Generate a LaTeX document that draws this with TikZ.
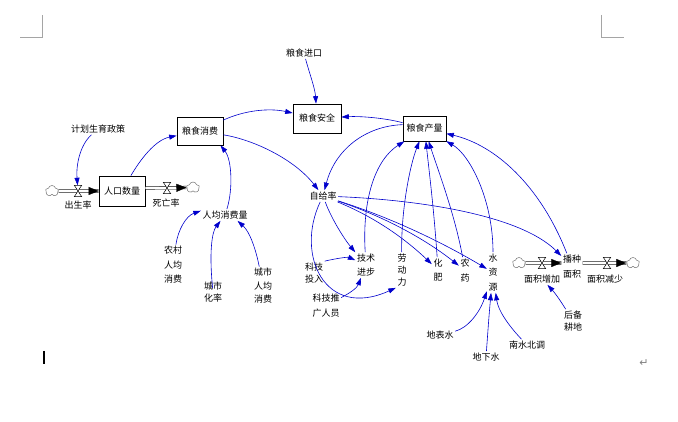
\documentclass[tikz,border=0pt]{standalone}
\usepackage{fontspec}
\setmainfont{Noto Sans CJK SC}
\newfontfamily\symfont{DejaVu Sans}
\usetikzlibrary{arrows.meta,shapes.symbols}
\definecolor{vblue}{RGB}{0,0,204}
\definecolor{markgray}{RGB}{165,165,165}
\definecolor{cloudgray}{RGB}{110,110,110}
\newcommand{\fs}[1]{\fontsize{9}{#1}\selectfont}
\newcommand{\drawvalve}[1]{\draw[line width=0.5pt, fill=white] (#1.north west) -- (#1.north east) -- (#1.south west) -- (#1.south east) -- cycle;}
\begin{document}
\begin{tikzpicture}[x=1pt,y=-1pt,
  every node/.style={inner sep=1.5pt},
  txt/.style={align=center, font=\fs{13.5}},
  stock/.style={draw, line width=0.7pt, inner sep=0pt, font=\fs{11}},
  arr/.style={draw=vblue, line width=0.6pt, -{Triangle[length=7.5pt,width=5pt]}},
  pipe/.style={draw=black, double=white, double distance=2.2pt, line width=0.5pt},
  pipetip/.style={draw=white, line width=0.3pt, -{Triangle[length=10pt,width=8pt,color=black,fill=black]}},
  valvebox/.style={minimum width=7pt, minimum height=11pt, inner sep=0pt},
  cloudy/.style={cloud, cloud puffs=5, cloud puff arc=150, draw=cloudgray, line width=0.5pt, minimum width=13pt, minimum height=11pt, inner sep=0pt, aspect=1.1},
]
\path[use as bounding box] (0,0) rectangle (678,422);

% page marks
\draw[markgray, line width=0.6pt] (20,37) -- (42,37) -- (42,15);
\draw[markgray, line width=0.6pt] (601,15) -- (601,37) -- (624,37);
\draw[line width=1.2pt] (44,351) -- (44,364);
\node[text=gray, font=\symfont\fontsize{11}{11}\selectfont] (ret) at (644,363) {↵};

% stocks
\node[stock, minimum width=48pt, minimum height=29pt] (sec) at (317,118.5) {粮食安全};
\node[stock, minimum width=43pt, minimum height=25pt] (prod) at (424.5,128.5) {粮食产量};
\node[stock, minimum width=46pt, minimum height=28pt] (cons) at (200,131) {粮食消费};
\node[stock, minimum width=46pt, minimum height=30pt] (pop) at (122,191) {人口数量};

% variables
\node[txt] (imp) at (304,53) {粮食进口};
\node[txt] (plan) at (98,129) {计划生育政策};
\node[txt] (percap) at (225,215) {人均消费量};
\node[txt, font=\fs{14.5}] (rural) at (173,265) {农村\\人均\\消费};
\node[txt, font=\fs{12}] (urbrate) at (213,292) {城市\\化率};
\node[txt, font=\fs{13.5}] (city) at (263,286) {城市\\人均\\消费};
\node[txt] (self) at (323,196) {自给率};
\node[txt, font=\fs{14}] (tech) at (366,265) {技术\\进步};
\node[txt, font=\fs{12}] (kjtr) at (314,273) {科技\\投入};
\node[txt, font=\fs{15}] (kjtg) at (326,305.5) {科技推\\广人员};
\node[txt, font=\fs{12}] (labor) at (402,270) {劳\\动\\力};
\node[txt, font=\fs{14}] (fert) at (438,270) {化\\肥};
\node[txt, font=\fs{15}] (pest) at (465,270.5) {农\\药};
\node[txt, font=\fs{14.5}] (water) at (493,272.5) {水\\资\\源};
\node[txt] (surf) at (440,335) {地表水};
\node[txt] (under) at (486,357) {地下水};
\node[txt] (snbd) at (527,345) {南水北调};
\node[txt, font=\fs{15}] (area) at (572,266.5) {播种\\面积};
\node[txt, font=\fs{12}] (reserve) at (573,321) {后备\\耕地};

% flows: population
\node[cloudy] (cloudL) at (52,191) {};
\node[valvebox] (bvalve) at (78,191) {};
\node[txt] (birth) at (78,205) {出生率};
\node[valvebox] (dvalve) at (167,188) {};
\node[cloudy] (cloudR) at (193,187.5) {};
\node[txt] (death) at (166,203) {死亡率};
\draw[pipe] (cloudL) -- (pop);
\draw[pipetip] (bvalve) -- (pop);
\drawvalve{bvalve}
\draw[pipe] (pop.east |- dvalve) -- (cloudR);
\draw[pipetip] (dvalve) -- (cloudR);
\drawvalve{dvalve}

% flows: area
\node[cloudy] (cloudA) at (519,263) {};
\node[valvebox] (aivalve) at (542,263) {};
\node[txt] (ainc) at (542,279) {面积增加};
\node[valvebox] (advalve) at (607,263) {};
\node[txt] (adec) at (605,279) {面积减少};
\node[cloudy] (cloudB) at (633,263) {};
\draw[pipe] (cloudA) -- (area.west |- aivalve);
\draw[pipetip] (aivalve) -- (area.west |- aivalve);
\drawvalve{aivalve}
\draw[pipe] (area.east |- advalve) -- (cloudB);
\draw[pipetip] (advalve) -- (cloudB);
\drawvalve{advalve}

% causal links
\draw[arr] (imp) .. controls (309,72) and (315,88) .. (sec);
\draw[arr] (cons) .. controls (245,110) and (270,108) .. (sec);
\draw[arr] (prod) .. controls (385,118) and (360,116) .. (sec);
\draw[arr] (cons) .. controls (255,140) and (295,160) .. (self);
\draw[arr] (prod.170) .. controls (365,126) and (335,150) .. (self);
\draw[arr] (pop) .. controls (140,160) and (155,140) .. (cons);
\draw[arr] (plan) .. controls (80,145) and (76,165) .. (bvalve);
\draw[arr] (percap) .. controls (233,190) and (232,160) .. (cons.-35);
\draw[arr] (rural) .. controls (178,230) and (186,216) .. (percap.170);
\draw[arr, shorten <=-8pt] (urbrate) .. controls (209,252) and (212,232) .. (percap);
\draw[arr] (city) .. controls (256,250) and (250,232) .. (percap.-25);
\draw[arr] (self) .. controls (332,220) and (345,240) .. (tech);
\draw[arr] (kjtr.north east) .. controls (338,258) and (348,257) .. (tech);
\draw[arr] (kjtg) .. controls (350,293) and (357,288) .. (tech);
\draw[arr] (self) .. controls (295,255) and (325,320) .. (labor.south west);
\draw[arr] (tech) .. controls (362,200) and (375,160) .. (prod);
\draw[arr] (labor) .. controls (401,210) and (410,165) .. (prod);
\draw[arr] (fert) .. controls (434,210) and (429,170) .. (prod);
\draw[arr] (pest) .. controls (455,215) and (438,170) .. (prod);
\draw[arr] (water) .. controls (493,200) and (470,155) .. (prod);
\draw[arr] (area) .. controls (540,185) and (495,145) .. (prod);
\draw[arr] (self) .. controls (372,216) and (402,236) .. (fert);
\draw[arr] (self) .. controls (385,217) and (425,239) .. (pest);
\draw[arr] (self) .. controls (395,219) and (445,244) .. (water);
\draw[arr] (self) .. controls (420,200) and (520,215) .. (area);
\draw[arr] (surf) .. controls (468,328) and (480,312) .. (water);
\draw[arr] (under) .. controls (488,330) and (489,315) .. (water);
\draw[arr] (snbd) .. controls (508,325) and (498,310) .. (water);
\draw[arr] (reserve) .. controls (560,300) and (555,293) .. (ainc);
\end{tikzpicture}
\end{document}
